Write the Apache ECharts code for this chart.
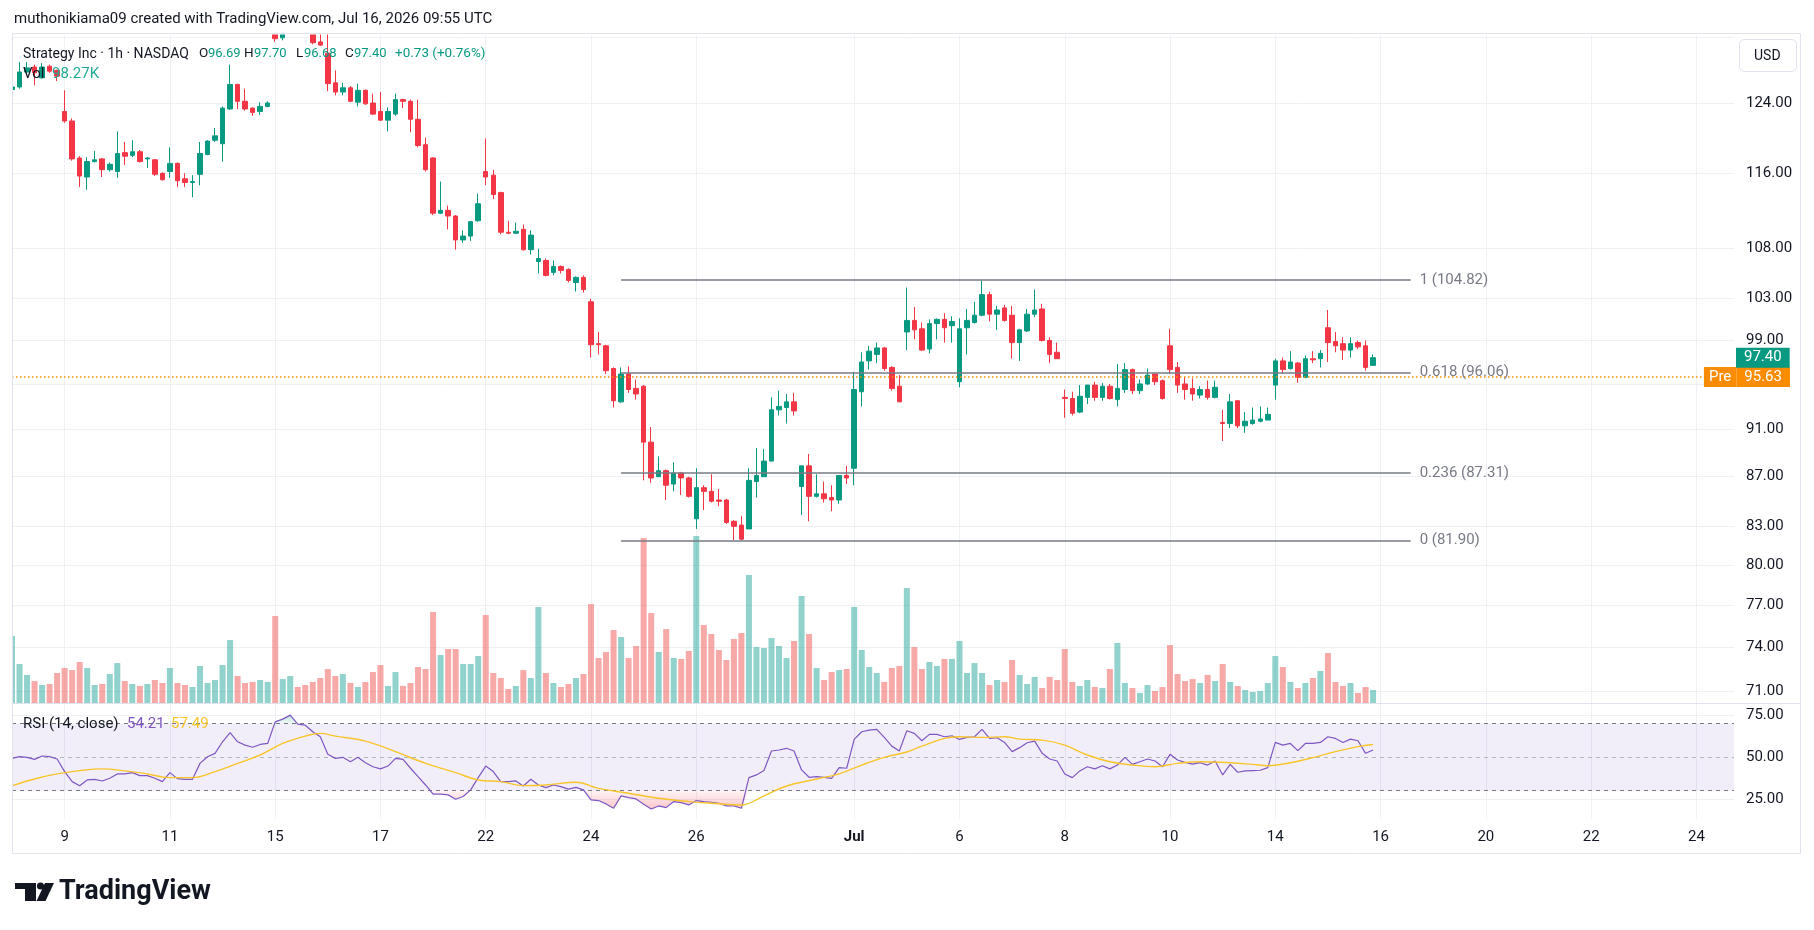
<!DOCTYPE html>
<html>
<head>
<meta charset="utf-8">
<title>Strategy Inc 1h</title>
<script src="https://cdn.jsdelivr.net/npm/echarts@6/dist/echarts.min.js"></script>
<style>
html, body { margin: 0; padding: 0; background: #fff; }
#main { width: 1814px; height: 930px; }
</style>
</head>
<body>
<div id="main"></div>
<script>
// bars: 7 hourly candles per session
var hours = ['09:30', '10:30', '11:30', '12:30', '13:30', '14:30', '15:30'];
var tradingDays = ['06-08', '06-09', '06-10', '06-11', '06-12', '06-15', '06-16', '06-17', '06-18',
    '06-22', '06-23', '06-24', '06-25', '06-26', '06-29', '06-30', '07-01', '07-02',
    '07-06', '07-07', '07-08', '07-09', '07-10', '07-13', '07-14', '07-15'];
var futureDays = ['07-16', '07-17', '07-20', '07-21', '07-22', '07-23', '07-24'];

var tickDays = ['06-09', '06-11', '06-15', '06-17', '06-22', '06-24', '06-26', '07-01',
    '07-06', '07-08', '07-10', '07-14', '07-16', '07-20', '07-22', '07-24'];
var tickTexts = ['9', '11', '15', '17', '22', '24', '26', 'Jul', '6', '8', '10', '14', '16', '20', '22', '24'];

var opens = [125.6, 125.9, 127.7, 128.3, 127.0, 128.4, 127.9,
    123.0, 121.9, 117.7, 115.6, 117.3, 117.6, 116.4,
    116.2, 118.3, 118.0, 118.4, 117.6, 117.5, 116.0,
    116.2, 117.1, 115.4, 115.0, 115.9, 118.1, 119.7,
    119.3, 123.3, 126.2, 124.2, 123.4, 123.0, 123.6,
    134.0, 131.9, 134.5, 136.0, 135.0, 133.5, 131.4,
    130.0, 126.4, 125.3, 125.8, 124.1, 125.5, 124.0,
    123.0, 122.0, 122.7, 124.4, 124.2, 122.1, 119.2,
    117.7, 111.7, 112.0, 111.4, 108.9, 109.3, 110.9,
    116.2, 115.8, 113.9, 109.7, 109.6, 110.0, 107.9,
    106.7, 106.8, 105.6, 106.2, 105.9, 104.6, 105.1,
    102.7, 98.7, 98.5, 96.4, 93.4, 95.9, 94.6,
    94.8, 89.9, 87.0, 87.5, 86.4, 87.3, 86.9,
    83.6, 86.1, 85.8, 85.1, 85.1, 83.4, 83.1,
    82.8, 86.6, 87.0, 88.3, 92.7, 92.9, 93.4,
    86.2, 87.9, 85.4, 85.6, 85.3, 85.1, 87.1,
    87.7, 94.3, 97.1, 97.7, 98.3, 96.5, 94.8,
    99.8, 100.9, 100.1, 98.2, 100.6, 101.0, 100.4,
    95.2, 100.2, 100.7, 101.4, 103.4, 101.5, 102.1,
    101.4, 98.8, 99.9, 101.5, 102.0, 99.0, 97.9,
    93.8, 93.7, 92.5, 93.8, 94.9, 93.8, 94.8,
    93.6, 94.5, 96.3, 94.4, 95.0, 95.9, 95.3,
    98.5, 96.5, 95.0, 94.6, 94.0, 94.5, 93.8,
    91.6, 91.5, 93.5, 91.3, 91.5, 91.7, 91.8,
    94.9, 97.1, 96.4, 96.9, 95.6, 97.3, 97.3,
    100.2, 98.9, 98.7, 98.1, 98.8, 98.5, 96.69];

var closes = [125.9, 127.7, 128.2, 127.6, 128.3, 127.8, 127.2,
    121.9, 117.6, 115.7, 117.3, 117.5, 116.4, 117.0,
    118.2, 117.9, 118.4, 117.3, 117.7, 115.9, 115.3,
    117.1, 115.2, 115.0, 115.1, 118.2, 119.6, 120.2,
    123.4, 126.2, 124.2, 123.3, 122.9, 123.6, 124.0,
    131.8, 134.5, 136.0, 135.0, 133.5, 131.3, 131.0,
    126.3, 125.3, 125.8, 124.2, 125.5, 123.9, 122.7,
    122.0, 123.0, 124.4, 124.2, 122.1, 119.1, 116.4,
    111.7, 112.0, 111.4, 108.9, 109.3, 110.8, 112.7,
    115.6, 113.7, 109.7, 109.6, 109.8, 107.9, 109.4,
    107.0, 105.3, 106.2, 105.8, 104.8, 105.1, 103.9,
    98.6, 98.6, 96.2, 93.5, 95.9, 94.5, 94.1,
    89.9, 86.9, 87.5, 86.3, 87.3, 86.9, 85.4,
    86.1, 85.8, 85.0, 85.0, 83.3, 83.0, 82.0,
    86.7, 87.1, 88.3, 92.7, 93.0, 93.4, 92.6,
    87.9, 85.4, 85.6, 85.2, 85.1, 87.1, 86.9,
    94.5, 97.0, 98.0, 98.3, 96.4, 94.6, 93.4,
    100.9, 100.0, 98.1, 100.6, 101.0, 100.2, 100.8,
    100.1, 100.9, 101.4, 103.4, 101.5, 101.9, 100.9,
    98.8, 100.0, 101.5, 101.9, 99.0, 97.7, 97.3,
    93.7, 92.4, 93.9, 94.9, 93.8, 94.8, 93.7,
    94.6, 96.3, 94.4, 95.0, 95.8, 95.2, 93.7,
    96.3, 94.9, 94.5, 94.1, 94.5, 93.8, 94.7,
    91.5, 93.4, 91.3, 91.7, 91.8, 91.9, 92.3,
    97.1, 96.3, 97.0, 95.6, 97.3, 97.2, 97.8,
    98.8, 98.5, 98.1, 98.7, 98.4, 96.5, 97.40];

var lows = [125.5, 125.7, 127.4, 126.1, 126.9, 127.6, 126.6,
    121.7, 117.4, 114.5, 114.2, 117.2, 115.6, 116.2,
    115.5, 116.9, 117.8, 117.2, 116.6, 115.7, 115.2,
    115.5, 114.5, 114.5, 113.4, 114.7, 118.0, 119.5,
    117.3, 123.2, 123.3, 123.1, 122.5, 122.6, 123.5,
    131.4, 131.6, 133.5, 134.0, 132.8, 131.1, 130.9,
    125.4, 124.9, 124.9, 124.1, 123.6, 123.8, 122.6,
    121.9, 120.7, 122.5, 123.4, 120.6, 118.9, 116.2,
    111.5, 111.6, 110.0, 107.9, 108.6, 108.8, 110.8,
    114.7, 113.2, 109.5, 109.5, 109.5, 107.8, 107.4,
    105.5, 105.2, 105.3, 105.5, 104.6, 103.7, 103.6,
    97.4, 97.7, 95.9, 92.9, 93.3, 94.2, 93.6,
    86.7, 86.5, 87.0, 85.1, 85.8, 85.5, 85.3,
    82.8, 84.3, 84.9, 84.6, 83.2, 81.9, 81.9,
    82.8, 85.3, 87.0, 88.3, 92.2, 91.5, 92.2,
    83.9, 83.4, 85.3, 84.9, 84.2, 84.8, 86.4,
    86.3, 93.0, 96.3, 96.9, 96.2, 94.4, 93.4,
    98.1, 99.1, 98.0, 97.8, 99.1, 98.8, 98.8,
    94.7, 97.7, 100.6, 101.3, 100.8, 100.0, 100.8,
    97.3, 97.1, 99.8, 101.2, 98.9, 96.9, 97.3,
    92.0, 92.2, 92.4, 93.2, 93.5, 93.5, 93.6,
    93.0, 94.2, 94.1, 94.1, 94.9, 94.9, 93.6,
    95.9, 94.2, 93.6, 93.5, 93.7, 93.6, 93.7,
    90.0, 91.1, 91.1, 90.7, 91.4, 91.6, 91.8,
    93.6, 95.9, 96.3, 95.1, 95.5, 96.9, 96.5,
    97.0, 97.9, 97.2, 97.4, 98.2, 96.2, 96.68];

var highs = [126.0, 128.9, 128.9, 128.6, 128.8, 128.6, 128.0,
    125.5, 122.2, 117.9, 117.8, 118.5, 117.7, 117.2,
    120.7, 119.5, 119.7, 118.6, 117.8, 117.6, 116.1,
    118.9, 117.2, 116.0, 115.8, 119.5, 119.7, 121.1,
    123.6, 128.6, 126.3, 125.7, 123.5, 124.1, 124.2,
    136.0, 136.5, 137.0, 137.5, 136.0, 134.0, 132.5,
    132.5, 127.9, 126.4, 126.0, 126.3, 125.6, 125.1,
    125.3, 123.5, 125.1, 124.5, 124.4, 124.4, 120.0,
    117.8, 115.1, 112.5, 111.5, 109.9, 110.9, 113.8,
    119.9, 116.4, 114.0, 110.9, 110.7, 110.5, 109.9,
    108.0, 107.0, 106.8, 106.3, 106.0, 105.2, 105.3,
    103.0, 99.8, 98.6, 96.5, 96.5, 96.6, 95.4,
    94.9, 91.2, 88.7, 87.6, 88.2, 87.4, 87.0,
    87.7, 86.3, 87.2, 86.0, 85.2, 83.5, 83.8,
    87.7, 89.4, 89.3, 93.8, 94.4, 94.1, 94.2,
    87.9, 88.9, 87.2, 86.6, 86.3, 87.1, 87.9,
    96.1, 97.9, 98.5, 98.8, 98.4, 96.6, 95.8,
    104.1, 102.2, 100.7, 101.0, 101.1, 101.6, 101.3,
    101.1, 102.0, 102.7, 104.8, 103.7, 102.3, 102.4,
    102.3, 100.1, 102.0, 103.9, 102.5, 99.3, 98.8,
    94.5, 94.3, 94.9, 94.9, 95.2, 95.1, 95.0,
    96.8, 96.9, 96.4, 95.4, 96.4, 96.0, 95.4,
    100.1, 97.0, 95.6, 95.5, 94.8, 95.3, 95.3,
    92.7, 94.1, 93.5, 92.5, 92.9, 93.0, 92.9,
    97.3, 97.4, 98.0, 97.0, 97.6, 98.0, 98.1,
    101.9, 99.8, 99.3, 99.3, 99.0, 99.0, 97.70];

// volume in thousands of shares
var volumes = [507, 295, 212, 166, 136, 144, 227,
    265, 249, 310, 265, 136, 144, 219,
    302, 166, 144, 129, 144, 174, 151,
    265, 151, 136, 121, 280, 151, 174,
    287, 476, 204, 151, 159, 174, 159,
    658, 181, 204, 121, 136, 159, 189,
    257, 204, 219, 151, 121, 159, 234,
    287, 129, 234, 129, 151, 272, 257,
    688, 363, 408, 408, 295, 295, 355,
    665, 227, 189, 106, 129, 249, 189,
    726, 227, 151, 121, 144, 189, 219,
    748, 340, 386, 552, 499, 340, 431,
    1247, 680, 386, 559, 340, 333, 393,
    1263, 590, 522, 401, 325, 484, 529,
    968, 423, 416, 491, 431, 340, 469,
    809, 522, 265, 174, 234, 249, 257,
    726, 401, 272, 227, 159, 265, 280,
    869, 423, 257, 310, 280, 333, 333,
    469, 227, 302, 227, 136, 174, 159,
    325, 212, 144, 197, 113, 197, 174,
    408, 159, 129, 174, 121, 113, 257,
    454, 151, 113, 76, 136, 91, 121,
    438, 219, 166, 181, 151, 212, 166,
    295, 159, 129, 98, 83, 91, 151,
    355, 272, 159, 113, 151, 189, 242,
    378, 159, 129, 151, 76, 121, 98.27];

var rsi = [49.2, 50.2, 49.8, 48.6, 50.6, 50.2, 48.8,
    41.3, 35.3, 32.9, 36.3, 36.7, 35.7, 37.3,
    39.9, 39.9, 40.7, 38.9, 38.9, 37.3, 35.3,
    40.7, 37.1, 36.7, 36.7, 46.2, 50.2, 52.2,
    59.1, 64.5, 59.1, 57.1, 55.8, 57.5, 58.1,
    71.0, 72.6, 75.0, 69.6, 69.0, 65.1, 62.1,
    51.6, 49.2, 49.8, 47.2, 49.8, 46.6, 44.2,
    42.9, 44.6, 49.2, 48.6, 43.3, 38.3, 33.3,
    27.8, 27.8, 27.4, 24.8, 26.4, 30.4, 37.7,
    44.6, 41.3, 35.3, 35.3, 35.7, 32.7, 36.7,
    33.3, 31.7, 33.3, 32.3, 30.8, 31.9, 30.4,
    24.4, 24.0, 22.0, 19.4, 26.8, 25.8, 25.0,
    21.8, 19.0, 20.8, 19.8, 23.4, 22.8, 21.4,
    24.0, 23.4, 23.0, 22.4, 20.8, 20.8, 19.4,
    37.7, 39.3, 41.9, 53.6, 54.2, 55.2, 53.6,
    42.3, 37.9, 38.3, 37.9, 37.3, 43.7, 43.3,
    60.5, 65.1, 66.1, 66.5, 61.7, 56.5, 53.6,
    65.7, 64.1, 59.7, 63.5, 63.5, 62.1, 62.7,
    60.5, 61.7, 62.1, 66.5, 61.1, 61.5, 58.7,
    53.2, 55.6, 58.5, 59.5, 52.2, 48.8, 47.6,
    39.9, 37.7, 41.7, 44.2, 42.9, 44.8, 42.9,
    45.2, 49.8, 45.6, 47.2, 48.8, 47.6, 44.2,
    51.6, 48.2, 46.8, 45.8, 46.6, 45.2, 47.6,
    39.3, 45.6, 40.9, 41.7, 41.9, 42.1, 43.7,
    58.7, 57.1, 58.1, 53.8, 58.1, 58.1, 58.7,
    62.1, 61.1, 58.7, 60.7, 59.7, 52.2, 54.21];

// RSI-based MA, read at sampled bars
var maIdx = [0, 3, 6, 9, 12, 15, 18, 21, 24, 27, 30, 33, 36, 39, 41, 43, 47, 51, 55, 59,
    62, 65, 68, 71, 75, 78, 82, 86, 90, 93, 97, 100, 103, 107, 110, 113, 116, 119, 121, 124,
    126, 129, 132, 134, 137, 140, 143, 146, 149, 152, 155, 158, 162, 165, 167, 170, 173, 176, 179, 181];
var maVal = [32.9, 36.9, 39.9, 41.9, 42.9, 41.7, 39.9, 37.7, 37.7, 41.3, 46.2, 51.2, 58.1, 62.5, 64.1, 62.5, 59.5, 53.2, 46.2, 40.7,
    36.3, 35.3, 32.9, 33.3, 34.9, 31.3, 28.4, 25.4, 23.4, 22.4, 21.4, 26.8, 32.7, 36.9, 39.9, 45.2, 49.8, 53.0, 56.5, 61.1,
    62.1, 61.7, 62.1, 60.7, 60.1, 57.1, 51.2, 47.2, 45.2, 44.2, 46.2, 47.2, 46.6, 45.6, 44.8, 46.6, 49.6, 53.2, 56.2, 57.49];

var priceTicks = [124, 116, 108, 103, 99, 91, 87, 83, 80, 77, 74, 71];
var priceGridOnly = [132, 95];
var rsiTicks = [75, 50, 25];
var rsiBands = [70, 50, 30];

var fibRatios = ['1', '0.618', '0.236', '0'];
var fibPrices = [104.82, 96.06, 87.31, 81.90];
var fibStart = 80.7, fibEnd = 185.5;

var lastPrice = 97.40;
var preMarketPrice = 95.63;
var preLineEnd = 225;

var UP = '#089981', DOWN = '#F23645', GRID = '#EEF0F4', TXT = '#131722';
var FONT = 'Roboto, "Noto Sans", sans-serif';

var categories = [];
tradingDays.concat(futureDays).forEach(function (d) {
    hours.forEach(function (h) { categories.push(d + ' ' + h); });
});
categories = categories.slice(0, 230);

var tickMap = {};
tickDays.forEach(function (d, i) { tickMap[d + ' 09:30'] = tickTexts[i]; });
function isTick(idx, val) { return tickMap[val] !== undefined; }

var candles = opens.map(function (o, i) { return [o, closes[i], lows[i], highs[i]]; });
var volData = volumes.map(function (v, i) {
    return { value: v, itemStyle: { color: closes[i] >= opens[i] ? 'rgba(38,166,154,0.5)' : 'rgba(239,83,80,0.5)' } };
});
var maData = maIdx.map(function (x, k) { return [x, maVal[k]]; });

var dom = document.getElementById('main');
var myChart = echarts.init(dom);

function txt(x, y, s, color, size, weight) {
    return {
        type: 'text', x: x, y: y, z: 20, silent: true,
        style: {
            text: s, fill: color, font: (weight || 'normal') + ' ' + size + 'px ' + FONT,
            verticalAlign: 'middle', textVerticalAlign: 'middle'
        }
    };
}

var option = {
    animation: false,
    backgroundColor: '#ffffff',
    textStyle: { fontFamily: FONT },
    grid: [
        { left: 12, right: 80, top: 35, height: 668, containLabel: false, outerBoundsMode: 'none' },
        { left: 12, right: 80, top: 503, height: 200, containLabel: false, outerBoundsMode: 'none' },
        { left: 12, right: 80, top: 703, height: 116, containLabel: false, outerBoundsMode: 'none' }
    ],
    xAxis: [
        {
            type: 'category', gridIndex: 0, data: categories, boundaryGap: false,
            axisLine: { show: false }, axisTick: { show: false }, axisLabel: { show: false },
            splitLine: { show: true, interval: isTick, lineStyle: { color: GRID, width: 1 } }
        },
        { type: 'category', gridIndex: 1, data: categories, boundaryGap: false, show: false },
        {
            type: 'category', gridIndex: 2, data: categories, boundaryGap: false,
            axisLine: { show: false }, axisTick: { show: false },
            axisLabel: {
                interval: isTick, margin: 11, color: TXT, fontSize: 15,
                formatter: function (val) { return tickMap[val] === 'Jul' ? '{b|Jul}' : tickMap[val]; },
                rich: { b: { fontWeight: 'bold', fontSize: 15, color: TXT } }
            },
            splitLine: { show: true, interval: isTick, lineStyle: { color: GRID, width: 1 } }
        }
    ],
    yAxis: [
        { type: 'log', gridIndex: 0, min: 70.2, max: 132.26, show: false },
        { type: 'value', gridIndex: 1, min: 0, max: 1512, show: false },
        { type: 'value', gridIndex: 2, min: 13, max: 82.24, show: false }
    ],
    series: [
        {
            // price grid lines and scale labels
            type: 'line', xAxisIndex: 0, yAxisIndex: 0, data: [], silent: true,
            markLine: {
                silent: true, symbol: ['none', 'none'], z: 1, animation: false,
                lineStyle: { color: GRID, width: 1, type: 'solid' },
                label: { position: 'end', distance: 12, color: TXT, fontSize: 15 },
                emphasis: { disabled: true },
                data: priceTicks.map(function (v) { return { yAxis: v, label: { formatter: v.toFixed(2) } }; })
                    .concat(priceGridOnly.map(function (v) { return { yAxis: v, label: { show: false } }; }))
            }
        },
        {
            type: 'bar', name: 'Vol', xAxisIndex: 1, yAxisIndex: 1, data: volData,
            barWidth: 6, z: 2, silent: true
        },
        {
            type: 'candlestick', name: 'MSTR', xAxisIndex: 0, yAxisIndex: 0, data: candles,
            barWidth: 5, z: 3, silent: true, clip: true,
            itemStyle: { color: UP, color0: DOWN, borderColor: UP, borderColor0: DOWN, borderWidth: 1 },
            markLine: {
                silent: true, symbol: ['none', 'none'], animation: false,
                lineStyle: { color: '#787B86', width: 1.5, type: 'solid' },
                label: { position: 'end', distance: 9, color: '#787B86', fontSize: 15, formatter: '{b}' },
                emphasis: { disabled: true },
                data: fibPrices.map(function (p, k) {
                    return [
                        { name: fibRatios[k] + ' (' + p.toFixed(2) + ')', coord: [fibStart, p] },
                        { coord: [fibEnd, p] }
                    ];
                }).concat([
                    [
                        {
                            name: 'Pre', coord: [0, preMarketPrice],
                            lineStyle: { color: '#FB8C00', width: 1.5, type: [1.5, 2.5] },
                            label: {
                                distance: 0,
                                formatter: '{p|Pre}{v|' + preMarketPrice.toFixed(2) + '}',
                                rich: {
                                    p: { backgroundColor: '#FB8C00', color: '#fff', fontSize: 15, lineHeight: 15, padding: [3, 5, 2, 5] },
                                    v: { backgroundColor: '#FB8C00', color: '#fff', fontSize: 15, lineHeight: 15, padding: [3, 8, 2, 8] }
                                }
                            }
                        },
                        { coord: [preLineEnd, preMarketPrice] }
                    ],
                    {
                        name: 'last', yAxis: lastPrice, lineStyle: { color: 'rgba(0,0,0,0)', width: 1 },
                        label: {
                            distance: 2, formatter: lastPrice.toFixed(2), color: '#fff', fontSize: 15,
                            backgroundColor: UP, padding: [3, 8, 2, 8], lineHeight: 15
                        }
                    }
                ])
            }
        },
        {
            // RSI pane background, bands and scale
            type: 'line', xAxisIndex: 2, yAxisIndex: 2, data: [], silent: true,
            markArea: {
                silent: true, z: 1, itemStyle: { color: 'rgba(126,87,194,0.1)' }, label: { show: false },
                data: [[{ yAxis: 70 }, { yAxis: 30 }]]
            },
            markLine: {
                silent: true, symbol: ['none', 'none'], z: 1, animation: false,
                label: { position: 'end', distance: 12, color: TXT, fontSize: 15 },
                emphasis: { disabled: true },
                data: rsiTicks.map(function (v) {
                    return { yAxis: v, lineStyle: { color: GRID, type: 'solid', width: 1 }, label: { formatter: v.toFixed(2) } };
                }).concat(rsiBands.map(function (v, k) {
                    return {
                        yAxis: v, label: { show: false },
                        lineStyle: { color: k === 1 ? 'rgba(120,123,134,0.5)' : '#787B86', type: [4, 4], width: 1 }
                    };
                }))
            }
        },
        {
            type: 'line', xAxisIndex: 2, yAxisIndex: 2, silent: true, z: 2, symbol: 'none',
            data: rsi.map(function (v) { return Math.min(v, 30); }),
            lineStyle: { width: 0, opacity: 0 },
            areaStyle: {
                origin: 30,
                color: new echarts.graphic.LinearGradient(0, 0, 0, 1, [
                    { offset: 0, color: 'rgba(242,54,69,0.08)' },
                    { offset: 1, color: 'rgba(242,54,69,0.4)' }
                ])
            }
        },
        {
            type: 'line', xAxisIndex: 2, yAxisIndex: 2, silent: true, z: 2, symbol: 'none',
            data: rsi.map(function (v) { return Math.max(v, 70); }),
            lineStyle: { width: 0, opacity: 0 },
            areaStyle: {
                origin: 70,
                color: new echarts.graphic.LinearGradient(0, 0, 0, 1, [
                    { offset: 0, color: 'rgba(8,153,129,0.4)' },
                    { offset: 1, color: 'rgba(8,153,129,0.08)' }
                ])
            }
        },
        {
            type: 'line', name: 'RSI', xAxisIndex: 2, yAxisIndex: 2, data: rsi, silent: true, z: 3,
            symbol: 'none', lineStyle: { color: '#7E57C2', width: 1.2 }
        },
        {
            type: 'line', name: 'RSI MA', xAxisIndex: 2, yAxisIndex: 2, data: maData, silent: true, z: 3,
            symbol: 'none', smooth: 0.4, lineStyle: { color: '#F7C52B', width: 1.4 }
        }
    ],
    graphic: [
        // masks that trim candles running past the pane edges
        { type: 'rect', z: 10, silent: true, shape: { x: 0, y: 0, width: 1814, height: 34.5 }, style: { fill: '#fff' } },
        { type: 'rect', z: 10, silent: true, shape: { x: 0, y: 0, width: 12.5, height: 930 }, style: { fill: '#fff' } },
        { type: 'rect', z: 15, silent: true, shape: { x: 12.5, y: 33.5, width: 1788, height: 820 },
          style: { fill: 'none', stroke: '#E0E3EB', lineWidth: 1 } },
        { type: 'line', z: 15, silent: true, shape: { x1: 12, y1: 703.5, x2: 1800, y2: 703.5 },
          style: { stroke: '#E0E3EB', lineWidth: 1 } },
        txt(14, 19, 'muthonikiama09 created with TradingView.com, Jul 16, 2026 09:55 UTC', TXT, 15),
        txt(23, 54, 'Strategy Inc · 1h · NASDAQ', TXT, 14),
        txt(199, 54, 'O', TXT, 13.5), txt(208, 54, '96.69', UP, 13),
        txt(244, 54, 'H', TXT, 13.5), txt(254, 54, '97.70', UP, 13),
        txt(296, 54, 'L', TXT, 13.5), txt(304, 54, '96.68', UP, 13),
        txt(345, 54, 'C', TXT, 13.5), txt(354, 54, '97.40', UP, 13),
        txt(395, 54, '+0.73 (+0.76%)', UP, 13.5),
        txt(23, 74, 'Vol', TXT, 15), txt(52, 74, '98.27K', '#22AB94', 15),
        txt(23, 724, 'RSI (14, close)', TXT, 15),
        txt(127, 724, '54.21', '#7E57C2', 15),
        txt(171, 724, '57.49', '#F7C52B', 15),
        { type: 'rect', z: 20, silent: true, shape: { x: 1739.5, y: 39.5, width: 57, height: 32, r: 5 },
          style: { fill: '#fff', stroke: '#E0E3EB', lineWidth: 1 } },
        txt(1754, 56, 'USD', TXT, 14),
        // TradingView logo
        { type: 'rect', z: 20, silent: true, shape: { x: 15, y: 883, width: 21, height: 6 }, style: { fill: TXT } },
        { type: 'rect', z: 20, silent: true, shape: { x: 25, y: 883, width: 11, height: 18 }, style: { fill: TXT } },
        { type: 'circle', z: 20, silent: true, shape: { cx: 40.5, cy: 886, r: 3.6 }, style: { fill: TXT } },
        { type: 'polygon', z: 20, silent: true, shape: { points: [[45, 883], [54, 883], [45.5, 901], [36.5, 901]] }, style: { fill: TXT } },
        txt(59, 892, 'TradingView', TXT, 27, 'bold')
    ]
};

myChart.setOption(option, true);
</script>
</body>
</html>
